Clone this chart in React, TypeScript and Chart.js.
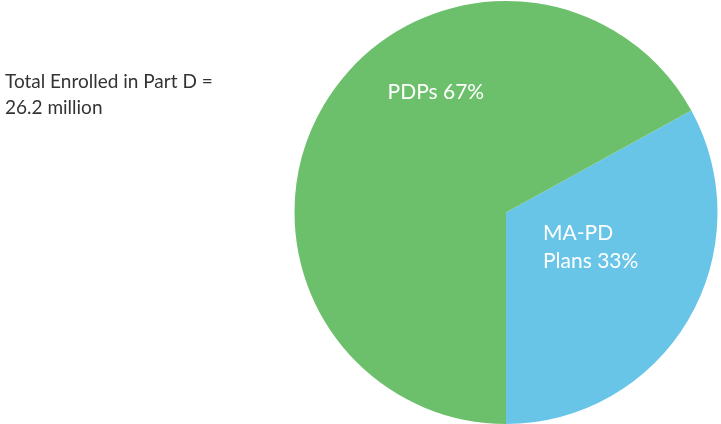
import React, { useEffect, useRef } from "react";
import { Chart, registerables } from "chart.js";

Chart.register(...registerables);

const categories: string[] = ["MA-PD Plans", "PDPs"];
const shares: number[] = [33, 67];
const sliceLabels: string[][] = [["MA-PD", "Plans 33%"], ["PDPs 67%"]];
const colors: string[] = ["#68C5E8", "#6DC06B"];
const noteLines: string[] = ["Total Enrolled in Part D =", "26.2 million"];

const FONT = "Lato, 'Open Sans', sans-serif";

const labelPlugin = {
  id: "sliceLabels",
  afterDatasetsDraw(chart: any) {
    const meta = chart.getDatasetMeta(0);
    const ctx = chart.ctx;
    ctx.save();
    ctx.fillStyle = "#ffffff";
    ctx.font = `21px ${FONT}`;
    ctx.textBaseline = "middle";
    ctx.textAlign = "left";
    meta.data.forEach((arc: any, i: number) => {
      const r = arc.outerRadius;
      const lines = sliceLabels[i];
      let x: number, y: number;
      if (i === 0) {
        x = arc.x + 0.175 * r;
        y = arc.y + 0.1 * r;
      } else {
        x = arc.x - 0.56 * r;
        y = arc.y - 0.57 * r;
      }
      lines.forEach((t, k) => ctx.fillText(t, x, y + k * 28));
    });
    ctx.restore();
  },
};

export default function App() {
  const ref = useRef<HTMLCanvasElement | null>(null);
  useEffect(() => {
    document.body.style.margin = "0";
    const chart = new Chart(ref.current as HTMLCanvasElement, {
      type: "pie",
      data: {
        labels: categories,
        datasets: [
          {
            data: shares,
            backgroundColor: colors,
            borderWidth: 0,
          },
        ],
      },
      options: {
        animation: false,
        responsive: false,
        rotation: 180 - (shares[0] / 100) * 360,
        layout: { padding: { left: 294, right: 3, top: 1, bottom: 0 } },
        plugins: {
          legend: { display: false },
          tooltip: { enabled: false },
        },
      },
      plugins: [labelPlugin],
    });
    return () => chart.destroy();
  }, []);
  return (
    <div style={{ position: "fixed", left: 0, top: 0, width: 721, height: 424, background: "#fff" }}>
      <canvas ref={ref} width={721} height={424} style={{ position: "absolute", left: 0, top: 0 }} />
      <div
        style={{
          position: "absolute",
          left: 5,
          top: 68,
          fontFamily: FONT,
          fontSize: 19,
          lineHeight: "26px",
          color: "#333",
        }}
      >
        {noteLines.map((t, i) => (
          <div key={i}>{t}</div>
        ))}
      </div>
    </div>
  );
}
